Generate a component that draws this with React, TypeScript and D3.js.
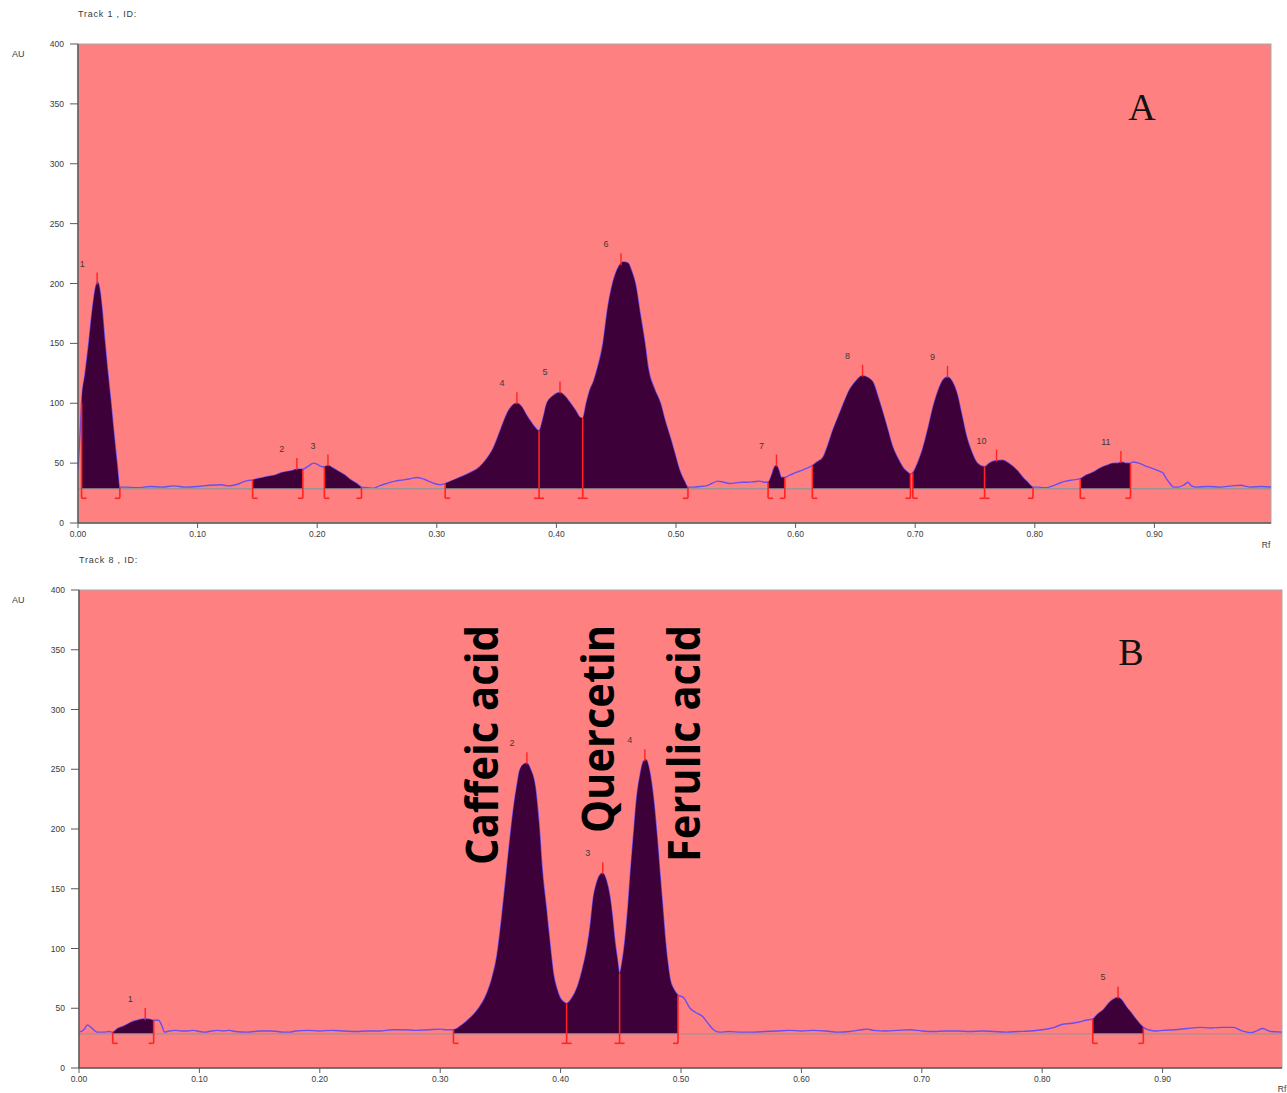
import React from 'react';
import * as d3 from 'd3';

// ---------- data ----------
const yTicks = [0, 50, 100, 150, 200, 250, 300, 350, 400];
const xTicks = [0, 0.1, 0.2, 0.3, 0.4, 0.5, 0.6, 0.7, 0.8, 0.9];
const xTickLabels = ['0.00', '0.10', '0.20', '0.30', '0.40', '0.50', '0.60', '0.70', '0.80', '0.90'];
const baselineAU = 29;

const traceA: [number, number][] = [
  [0, 45], [0.002, 80], [0.003, 100], [0.006, 125], [0.009, 150], [0.012, 178], [0.015, 198], [0.0165, 201],
  [0.018, 196], [0.02, 180], [0.0226, 150], [0.025, 125], [0.0276, 100], [0.03, 75], [0.0326, 50], [0.035, 30],
  [0.04, 30], [0.05, 29.5], [0.06, 30.5], [0.07, 30], [0.08, 31], [0.09, 30], [0.1, 30.5], [0.11, 31.5], [0.12, 32],
  [0.125, 31], [0.13, 31.5], [0.135, 33], [0.14, 35], [0.146, 36],
  [0.155, 38], [0.16, 39], [0.165, 40], [0.17, 42], [0.175, 43], [0.18, 44], [0.183, 45], [0.188, 45],
  [0.192, 47], [0.197, 50], [0.2, 49], [0.204, 47], [0.206, 47],
  [0.209, 48], [0.213, 46], [0.218, 43], [0.223, 40], [0.228, 36], [0.233, 33], [0.237, 30],
  [0.242, 29.5], [0.247, 29], [0.252, 31], [0.258, 33], [0.265, 35], [0.272, 36], [0.278, 37], [0.283, 38],
  [0.288, 37], [0.293, 35], [0.298, 33], [0.303, 32], [0.307, 33],
  [0.312, 35], [0.319, 38], [0.328, 42], [0.336, 47], [0.342, 54], [0.347, 62], [0.353, 77], [0.359, 92],
  [0.363, 98], [0.367, 100], [0.371, 97], [0.375, 90], [0.379, 84], [0.382, 80], [0.3855, 77],
  [0.389, 88], [0.392, 100], [0.397, 106], [0.403, 109], [0.407, 106], [0.411, 101], [0.416, 94], [0.42, 88], [0.422, 87.5],
  [0.425, 100], [0.428, 111], [0.431, 118], [0.434, 128], [0.439, 150], [0.443, 180], [0.447, 200], [0.452, 214],
  [0.456, 218], [0.46, 217], [0.463, 210], [0.466, 200], [0.47, 175], [0.474, 150], [0.477, 128], [0.482, 112],
  [0.487, 100], [0.491, 85], [0.495, 72], [0.499, 58], [0.503, 44], [0.507, 35], [0.51, 30],
  [0.515, 30], [0.52, 30.5], [0.525, 31], [0.53, 33], [0.535, 35], [0.54, 34], [0.545, 33], [0.55, 33.5],
  [0.555, 34], [0.56, 34], [0.565, 34.5], [0.57, 35], [0.574, 34], [0.577, 34],
  [0.58, 40], [0.582, 46], [0.584, 48], [0.586, 44], [0.588, 38], [0.591, 38],
  [0.595, 40], [0.6, 42], [0.605, 44], [0.61, 46], [0.614, 48],
  [0.618, 51], [0.623, 55], [0.627, 65], [0.631, 77], [0.637, 92], [0.641, 102], [0.645, 111], [0.65, 118],
  [0.656, 123], [0.661, 121], [0.665, 117], [0.669, 105], [0.673, 92], [0.677, 78], [0.681, 64], [0.686, 53],
  [0.69, 46], [0.693, 43], [0.696, 41],
  [0.698, 42], [0.702, 50], [0.706, 61], [0.711, 80], [0.715, 97], [0.719, 110], [0.723, 119], [0.727, 122],
  [0.731, 118], [0.735, 108], [0.739, 90], [0.743, 72], [0.747, 60], [0.752, 50], [0.758, 47],
  [0.762, 50], [0.767, 52], [0.773, 52.5], [0.778, 50], [0.782, 47], [0.786, 43], [0.79, 38], [0.794, 34], [0.7985, 30],
  [0.803, 30], [0.808, 29.5], [0.812, 30], [0.815, 31], [0.82, 33], [0.826, 35], [0.832, 36], [0.838, 37],
  [0.843, 40], [0.848, 42], [0.855, 46], [0.86, 48], [0.866, 50], [0.87, 50], [0.872, 51], [0.876, 50], [0.88, 50],
  [0.882, 51], [0.887, 50], [0.894, 47], [0.9, 45], [0.905, 43], [0.907, 42], [0.91, 37], [0.913, 33], [0.916, 30],
  [0.92, 30], [0.925, 32], [0.928, 34], [0.931, 31], [0.935, 30], [0.945, 30.5], [0.955, 30], [0.965, 31],
  [0.972, 31.5], [0.98, 30], [0.99, 30.5], [0.9975, 30],
];
const peakIdsA = [1, 2, 3, 4, 5, 6, 7, 8, 9, 10, 11];
const peakStartA = [0.003, 0.146, 0.206, 0.307, 0.3855, 0.422, 0.577, 0.614, 0.698, 0.758, 0.838];
const peakEndA = [0.035, 0.188, 0.237, 0.3855, 0.422, 0.51, 0.591, 0.696, 0.758, 0.7985, 0.88];
const peakApexA = [0.016, 0.183, 0.209, 0.367, 0.403, 0.454, 0.584, 0.656, 0.727, 0.768, 0.872];

const traceB: [number, number][] = [
  [0, 30], [0.004, 32], [0.007, 36], [0.01, 34], [0.015, 30], [0.02, 30], [0.025, 30.5], [0.028, 30],
  [0.032, 33], [0.037, 35], [0.041, 37], [0.045, 39], [0.049, 40], [0.053, 41], [0.057, 41], [0.062, 40],
  [0.066, 40], [0.069, 35], [0.071, 30], [0.075, 31], [0.08, 31.5], [0.085, 31], [0.09, 31], [0.095, 31.5],
  [0.1, 30.5], [0.105, 30], [0.11, 31], [0.115, 31.5], [0.12, 31], [0.125, 31.5], [0.13, 30.5], [0.14, 30],
  [0.15, 31], [0.16, 31], [0.17, 30], [0.175, 30], [0.18, 31], [0.19, 31.5], [0.2, 31], [0.21, 31.5], [0.22, 31],
  [0.23, 30.5], [0.24, 31], [0.25, 31], [0.26, 32], [0.27, 32], [0.28, 31.5], [0.29, 32], [0.3, 32.5], [0.305, 32], [0.311, 32],
  [0.318, 36], [0.325, 42], [0.332, 50], [0.339, 63], [0.343, 75], [0.347, 93], [0.351, 125], [0.355, 163],
  [0.358, 192], [0.361, 218], [0.364, 238], [0.366, 249], [0.369, 254], [0.372, 255], [0.375, 250], [0.379, 235],
  [0.382, 205], [0.385, 163], [0.388, 135], [0.39, 115], [0.392, 96], [0.394, 79], [0.397, 66], [0.4, 58], [0.403, 55], [0.405, 54],
  [0.409, 58], [0.414, 68], [0.418, 82], [0.422, 101], [0.425, 122], [0.427, 141], [0.43, 155], [0.433, 162],
  [0.435, 163], [0.438, 157], [0.441, 143], [0.443, 127], [0.445, 107], [0.447, 92], [0.449, 79],
  [0.451, 88], [0.4535, 107], [0.456, 135], [0.458, 163], [0.461, 200], [0.463, 224], [0.466, 245], [0.469, 257],
  [0.471, 258], [0.474, 248], [0.477, 227], [0.48, 195], [0.4825, 163], [0.485, 132], [0.487, 107], [0.489, 88],
  [0.491, 74], [0.494, 66], [0.4975, 61],
  [0.502, 59], [0.5075, 50], [0.513, 46], [0.518, 43], [0.522, 38], [0.527, 32], [0.532, 30], [0.54, 30.5],
  [0.55, 30], [0.56, 30], [0.57, 30.5], [0.58, 31], [0.59, 31.5], [0.6, 31], [0.61, 31.5], [0.62, 31], [0.63, 30],
  [0.64, 30.5], [0.65, 32], [0.655, 32.5], [0.66, 31.5], [0.67, 31], [0.68, 31.5], [0.69, 32], [0.7, 31],
  [0.71, 30.5], [0.72, 31], [0.73, 31], [0.74, 30.5], [0.75, 31], [0.76, 30.5], [0.77, 30], [0.78, 30.5],
  [0.79, 31], [0.8, 32], [0.81, 34], [0.815, 36], [0.82, 37], [0.825, 37.5], [0.831, 38.5], [0.836, 40], [0.842, 41],
  [0.846, 45], [0.851, 49], [0.856, 55], [0.86, 58], [0.863, 59], [0.866, 57], [0.87, 51], [0.874, 46], [0.877, 42],
  [0.881, 37], [0.884, 34],
  [0.888, 32], [0.895, 31], [0.9, 31.5], [0.91, 32], [0.92, 33], [0.931, 34], [0.94, 33.5], [0.95, 34], [0.959, 34],
  [0.966, 31], [0.973, 29.5], [0.978, 31], [0.983, 33], [0.99, 30.5], [0.999, 30],
];
const peakIdsB = [1, 2, 3, 4, 5];
const peakStartB = [0.028, 0.311, 0.405, 0.449, 0.842];
const peakEndB = [0.062, 0.405, 0.449, 0.4975, 0.884];
const peakApexB = [0.055, 0.372, 0.435, 0.47, 0.863];
const compoundNames = ['Caffeic acid', 'Quercetin', 'Ferulic acid'];

// ---------- styles ----------
const PINK = '#ff8080';
const FILL = '#3d0038';
const BLUE = '#6a4ef2';
const RED = '#ff2323';
const GRAY = '#9c9494';
const TXT = '#3a3a3a';

function valueAt(trace: [number, number][], rf: number) {
  const i = d3.bisector((d: [number, number]) => d[0]).left(trace, rf);
  if (i <= 0) return trace[0][1];
  if (i >= trace.length) return trace[trace.length - 1][1];
  const a = trace[i - 1], b = trace[i];
  if (b[0] === rf) return b[1];
  const t = (rf - a[0]) / (b[0] - a[0]);
  return a[1] + t * (b[1] - a[1]);
}

type Geo = { left: number; right: number; top: number; bottom: number; unit: number };

function Panel(props: {
  id: string; geo: Geo; trace: [number, number][]; ids: number[]; starts: number[]; ends: number[]; apexes: number[];
  title: string; letter: string; letterPos: [number, number]; rfPos: [number, number];
}) {
  const { id, geo, trace, ids, starts, ends, apexes, title, letter, letterPos, rfPos } = props;
  const x = d3.scaleLinear().domain([0, 1]).range([geo.left, geo.left + geo.unit]);
  const y = d3.scaleLinear().domain([0, 400]).range([geo.bottom, geo.top]);
  const line = d3.line<[number, number]>().x(d => x(d[0])).y(d => y(d[1])).curve(d3.curveMonotoneX);
  const area = d3.area<[number, number]>().x(d => x(d[0])).y0(y(baselineAU)).y1(d => y(d[1])).curve(d3.curveMonotoneX);
  const yb = y(baselineAU);
  const brBottom = yb + 10;

  // boundaries
  const bounds: { rf: number; left: boolean; right: boolean }[] = [];
  starts.forEach((s, i) => {
    const b = bounds.find(q => Math.abs(q.rf - s) < 1e-6);
    if (b) b.right = true; else bounds.push({ rf: s, left: false, right: true });
    const e = ends[i];
    const c = bounds.find(q => Math.abs(q.rf - e) < 1e-6);
    if (c) c.left = true; else bounds.push({ rf: e, left: true, right: false });
  });

  return (
    <g>
      <text x={geo.left} y={geo.top - 27} fontFamily="Arial, Liberation Sans" fontSize={9} fill={TXT} letterSpacing={0.8}>{title}</text>
      <text x={12} y={geo.top + 13} fontFamily="Arial, Liberation Sans" fontSize={9} fill={TXT}>AU</text>
      <rect x={geo.left} y={geo.top} width={geo.right - geo.left} height={geo.bottom - geo.top} fill={PINK} stroke="#a8a8a8" strokeWidth={1} />
      <defs>
        <clipPath id={`plot-${id}`}>
          <rect x={geo.left} y={geo.top} width={geo.right - geo.left} height={geo.bottom - geo.top} />
        </clipPath>
        {starts.map((s, i) => (
          <clipPath key={i} id={`pk-${id}-${i}`}>
            <rect x={x(s)} y={geo.top} width={x(ends[i]) - x(s)} height={geo.bottom - geo.top} />
          </clipPath>
        ))}
      </defs>
      <g clipPath={`url(#plot-${id})`}>
        <path d={line(trace) || ''} fill="none" stroke={BLUE} strokeWidth={1.4} />
        <line x1={geo.left} x2={geo.right} y1={yb + 0.5} y2={yb + 0.5} stroke={GRAY} strokeWidth={1.4} />
        {starts.map((s, i) => (
          <path key={i} d={area(trace) || ''} fill={FILL} clipPath={`url(#pk-${id}-${i})`} />
        ))}
        {bounds.map((b, i) => {
          const bx = x(b.rf);
          const top = y(Math.max(valueAt(trace, b.rf), baselineAU));
          return (
            <g key={i} stroke={RED} strokeWidth={1.6} fill="none">
              <line x1={bx} x2={bx} y1={top} y2={brBottom} />
              {b.right && <line x1={bx} x2={bx + 5} y1={brBottom} y2={brBottom} />}
              {b.left && <line x1={bx - 5} x2={bx} y1={brBottom} y2={brBottom} />}
            </g>
          );
        })}
        {apexes.map((a, i) => {
          const ax = x(a);
          const ay = y(valueAt(trace, a));
          return (
            <g key={i}>
              <line x1={ax} x2={ax} y1={ay - 11} y2={ay + 1} stroke={RED} strokeWidth={1.4} />
              <text x={ax - 15} y={ay - 17} textAnchor="middle" fontFamily="Arial, Liberation Sans" fontSize={9} fill={TXT}>{ids[i]}</text>
            </g>
          );
        })}
      </g>
      {/* axes */}
      <line x1={geo.left} x2={geo.left} y1={geo.top} y2={geo.bottom} stroke="#5a5a5a" strokeWidth={1.5} />
      <line x1={geo.left} x2={geo.right} y1={geo.bottom} y2={geo.bottom} stroke="#5a5a5a" strokeWidth={1.5} />
      {yTicks.map(t => (
        <g key={t}>
          <line x1={geo.left - 8} x2={geo.left} y1={y(t)} y2={y(t)} stroke="#5a5a5a" strokeWidth={1} />
          <text x={geo.left - 14} y={y(t) + 3} textAnchor="end" fontFamily="Arial, Liberation Sans" fontSize={8.5} fill={TXT}>{t}</text>
        </g>
      ))}
      {xTicks.map((t, i) => (
        <g key={t}>
          <line x1={x(t)} x2={x(t)} y1={geo.bottom} y2={geo.bottom + 5} stroke="#5a5a5a" strokeWidth={1} />
          <text x={x(t)} y={geo.bottom + 14} textAnchor="middle" fontFamily="Arial, Liberation Sans" fontSize={8.5} fill={TXT}>{xTickLabels[i]}</text>
        </g>
      ))}
      <text x={rfPos[0]} y={rfPos[1]} textAnchor="middle" fontFamily="Arial, Liberation Sans" fontSize={8.5} fill={TXT}>Rf</text>
      <text x={letterPos[0]} y={letterPos[1]} textAnchor="middle" fontFamily="Liberation Serif, Times New Roman, serif" fontSize={38} fill="#111">{letter}</text>
    </g>
  );
}

const geoA: Geo = { left: 78, right: 1271, top: 44, bottom: 523, unit: 1196 };
const geoB: Geo = { left: 79, right: 1282, top: 590, bottom: 1068, unit: 1204 };

const nameLayout = [
  { x: 498, y: 865, len: 240 },
  { x: 614, y: 833, len: 208 },
  { x: 700, y: 862, len: 237 },
];

export default function App() {
  return (
    <svg width={1287} height={1093} style={{ position: 'absolute', left: 0, top: 0, background: '#fff' }}>
      <Panel id="a" geo={geoA} trace={traceA} ids={peakIdsA} starts={peakStartA} ends={peakEndA} apexes={peakApexA}
        title="Track 1 , ID:" letter="A" letterPos={[1142, 120]} rfPos={[1266, 548]} />
      <Panel id="b" geo={geoB} trace={traceB} ids={peakIdsB} starts={peakStartB} ends={peakEndB} apexes={peakApexB}
        title="Track 8 , ID:" letter="B" letterPos={[1131, 665]} rfPos={[1282, 1092]} />
      {compoundNames.map((n, i) => (
        <text key={n} transform={`translate(${nameLayout[i].x},${nameLayout[i].y}) rotate(-90)`}
          fontFamily="Open Sans, Liberation Sans, sans-serif" fontWeight={700} fontSize={44} fill="#000"
          textLength={nameLayout[i].len} lengthAdjust="spacingAndGlyphs">{n}</text>
      ))}
    </svg>
  );
}
